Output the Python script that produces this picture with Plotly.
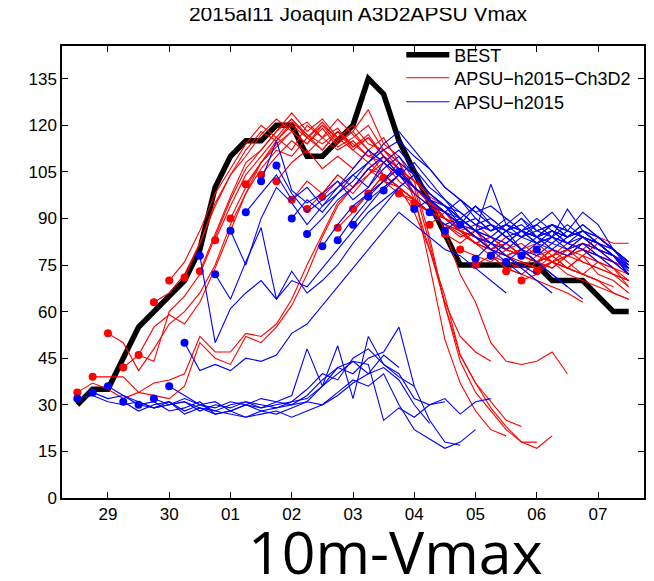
import plotly.graph_objects as go

# ---- time axis: days from 28 Sep 00Z; forecasts are 6-hourly ----
start_day = 0.5          # 28 Sep 12Z (first init / first BEST point)
step_day = 0.25          # 6 h
tick_days = [1, 2, 3, 4, 5, 6, 7, 8, 9]
tick_labels = ["29", "30", "01", "02", "03", "04", "05", "06", "07"]
y_ticks = [0, 15, 30, 45, 60, 75, 90, 105, 120, 135]

# ---- BEST track Vmax (kt) ----
best_vmax = [30, 35, 35, 45, 55, 60, 65, 70, 80, 100, 110, 115, 115, 120, 120, 110,
             110, 115, 120, 135, 130, 115, 105, 95, 85, 75, 75, 75, 75, 75, 75, 70,
             70, 70, 65, 60, 60]

# ---- APSU-h2015-Ch3D2 forecasts (red); run k starts at init index k ----
red_runs = [
    [34, 37, 35, 32, 34, 33, 32, 36, 50, 45, 43, 52, 50, 55, 62, 72, 84, 94, 100, 106, 104, 100],
    [39, 39, 39, 34, 37, 38, 40, 52, 47, 47, 53, 52, 56, 64, 75, 85, 95, 100, 104, 110, 106, 100],
    [53, 50, 41, 48, 56, 60, 66, 75, 88, 98, 106, 112, 110, 116, 112, 118, 114, 110, 112, 106, 102, 98],
    [42, 46, 55, 59, 56, 63, 74, 86, 98, 108, 113, 118, 114, 120, 116, 112, 116, 110, 106, 102, 97, 94],
    [46, 44, 60, 65, 72, 84, 96, 106, 112, 118, 122, 116, 120, 114, 118, 112, 108, 104, 100, 96, 90, 86],
    [63, 66, 72, 82, 95, 104, 112, 118, 115, 121, 117, 112, 118, 113, 116, 110, 104, 100, 95, 92, 88, 84],
    [70, 76, 86, 98, 106, 114, 120, 116, 122, 117, 114, 118, 112, 108, 104, 100, 92, 80, 63, 52, 47, 44],
    [71, 82, 94, 104, 110, 117, 122, 118, 121, 116, 119, 113, 117, 110, 106, 98, 75, 51, 37, 28, 22, 20],
    [73, 85, 97, 108, 112, 118, 124, 118, 122, 116, 120, 114, 112, 108, 100, 82, 62, 46, 37, 31, 25, 23],
    [83, 94, 104, 110, 116, 112, 120, 116, 122, 117, 112, 116, 108, 96, 80, 65, 46, 37, 29, 23, 18, 18],
    [90, 100, 108, 115, 120, 116, 121, 115, 118, 125, 114, 110, 102, 84, 62, 44, 34, 28, 22, 18, 16, 20],
    [101, 108, 114, 118, 114, 119, 113, 116, 120, 112, 108, 104, 96, 86, 72, 63, 50, 44, 43, 44, 47, 40],
    [104, 110, 115, 111, 116, 112, 115, 110, 108, 104, 100, 95, 92, 86, 82, 78, 74, 72, 70, 68, 66, 63],
    [102, 108, 112, 106, 110, 106, 112, 104, 100, 96, 92, 88, 84, 86, 82, 80, 78, 76, 80, 76, 72, 70],
    [96, 102, 98, 104, 100, 106, 102, 98, 95, 92, 88, 86, 82, 84, 80, 78, 76, 78, 74, 72, 70, 68],
    [93, 98, 104, 100, 106, 110, 104, 100, 96, 90, 86, 84, 80, 82, 78, 80, 76, 74, 78, 72, 70, 66],
    [97, 102, 98, 104, 108, 102, 98, 94, 90, 86, 88, 84, 80, 82, 78, 76, 80, 76, 74, 72, 70],
    [87, 92, 98, 102, 100, 96, 92, 90, 86, 84, 80, 82, 78, 80, 76, 74, 72, 76, 74, 68],
    [93, 98, 104, 100, 96, 92, 90, 86, 82, 80, 78, 76, 74, 76, 72, 70, 68, 66, 64],
    [98, 104, 100, 96, 92, 88, 85, 82, 80, 78, 80, 76, 78, 80, 82, 78, 76, 74],
    [103, 106, 100, 95, 90, 88, 84, 82, 78, 80, 76, 78, 74, 72, 70, 66, 64],
    [98, 96, 92, 88, 86, 82, 80, 84, 80, 82, 78, 80, 84, 80, 76, 72],
    [95, 92, 90, 86, 82, 84, 80, 78, 80, 76, 78, 80, 78, 74, 70],
    [88, 92, 86, 84, 80, 82, 78, 76, 78, 82, 80, 84, 82, 82],
    [85, 82, 86, 80, 78, 80, 76, 74, 78, 80, 76, 74, 72],
    [80, 78, 76, 80, 78, 76, 80, 78, 82, 80, 78, 74],
    [75, 78, 76, 74, 78, 80, 78, 82, 80, 78, 76],
    [78, 74, 72, 76, 74, 78, 76, 74, 72, 70],
    [73, 76, 74, 78, 80, 78, 82, 80, 76],
    [70, 72, 76, 74, 78, 76, 72, 68],
    [73, 76, 78, 80, 78, 76, 74],
]

# ---- APSU-h2015 forecasts (blue) ----
blue_runs = [
    [32, 33, 31, 30, 31, 29, 30, 31, 28, 30, 29, 31, 30, 29, 31, 32, 36, 40, 44, 40, 46, 42],
    [34, 32, 33, 31, 29, 30, 32, 30, 31, 28, 30, 32, 31, 33, 48, 36, 49, 32, 52, 43, 39, 36],
    [36, 33, 30, 31, 28, 29, 31, 27, 28, 30, 28, 29, 30, 31, 30, 33, 37, 40, 42, 38, 30, 24],
    [31, 28, 30, 31, 27, 29, 28, 27, 26, 28, 27, 29, 31, 36, 42, 44, 43, 25, 29, 26, 30, 31],
    [30, 29, 31, 28, 30, 29, 31, 30, 29, 31, 30, 33, 38, 42, 40, 45, 47, 55, 36, 25, 18, 17],
    [32, 30, 31, 29, 27, 28, 26, 27, 28, 26, 28, 30, 34, 38, 36, 40, 30, 22, 19, 16, 18, 22],
    [36, 33, 30, 28, 30, 31, 29, 30, 31, 35, 40, 38, 45, 48, 43, 40, 32, 30, 32, 27, 31, 32],
    [50, 41, 43, 41, 45, 44, 46, 53, 56, 62, 68, 74, 80, 86, 92, 88, 84, 80, 78, 74, 70, 66],
    [78, 50, 61, 66, 70, 64, 73, 66, 70, 75, 82, 88, 94, 100, 104, 98, 94, 88, 84, 80, 76, 72],
    [72, 64, 76, 87, 64, 70, 68, 74, 80, 86, 92, 96, 100, 104, 98, 94, 90, 86, 82, 78, 75, 72],
    [86, 75, 90, 100, 95, 88, 94, 100, 106, 112, 108, 104, 100, 96, 92, 88, 84, 80, 78, 74, 70, 66],
    [92, 98, 104, 96, 100, 94, 98, 102, 108, 112, 115, 110, 106, 100, 96, 92, 88, 84, 80, 76, 72, 68],
    [102, 115, 99, 95, 98, 102, 96, 100, 106, 110, 104, 98, 94, 90, 86, 88, 84, 80, 76, 72, 68, 64],
    [107, 98, 92, 96, 100, 104, 108, 114, 118, 112, 106, 100, 96, 92, 94, 90, 86, 88, 84, 82, 80, 76],
    [90, 96, 92, 98, 104, 100, 108, 112, 106, 100, 96, 92, 88, 86, 90, 86, 84, 86, 82, 80, 78, 74],
    [85, 90, 96, 100, 106, 110, 104, 100, 96, 94, 90, 86, 88, 84, 86, 82, 84, 80, 82, 78, 76, 72],
    [81, 88, 94, 98, 102, 108, 104, 98, 94, 92, 88, 90, 86, 88, 84, 86, 82, 84, 80, 78, 74],
    [83, 90, 96, 100, 104, 100, 96, 92, 90, 94, 88, 86, 90, 86, 88, 84, 86, 82, 80, 76],
    [88, 94, 100, 104, 98, 94, 92, 96, 90, 86, 88, 92, 86, 84, 88, 84, 82, 78, 75],
    [97, 102, 106, 100, 96, 92, 88, 94, 90, 86, 84, 88, 92, 86, 84, 82, 78, 72],
    [99, 104, 108, 102, 96, 90, 86, 82, 86, 90, 84, 80, 78, 82, 80, 76, 72],
    [105, 100, 96, 92, 88, 86, 101, 88, 86, 90, 86, 84, 88, 84, 80, 76],
    [93, 96, 92, 88, 90, 86, 88, 84, 86, 88, 84, 86, 82, 78, 74],
    [92, 88, 90, 86, 84, 88, 86, 82, 84, 93, 86, 84, 80, 76],
    [86, 90, 86, 84, 82, 86, 84, 88, 86, 92, 88, 80, 75],
    [88, 84, 82, 86, 80, 78, 82, 80, 84, 82, 78, 72],
    [77, 82, 80, 84, 82, 86, 84, 88, 84, 80, 74],
    [78, 82, 86, 84, 88, 86, 84, 80, 78, 72],
    [76, 80, 84, 82, 86, 84, 82, 78, 74],
    [78, 82, 80, 84, 86, 82, 78, 73],
    [80, 84, 82, 86, 84, 80, 76],
]

RED = "#ff0000"
BLUE = "#0000ff"
FONT = "Liberation Sans, Arial, Helvetica, sans-serif"


def runs_to_xy(runs):
    xs, ys, dx, dy = [], [], [], []
    for k, run in enumerate(runs):
        t = [start_day + step_day * (k + j) for j in range(len(run))]
        xs += t + [None]
        ys += list(run) + [None]
        dx.append(t[0])
        dy.append(run[0])
    return xs, ys, dx, dy


best_t = [start_day + step_day * i for i in range(len(best_vmax))]
rx, ry, rdx, rdy = runs_to_xy(red_runs)
bx, by, bdx, bdy = runs_to_xy(blue_runs)

fig = go.Figure()
fig.add_trace(go.Scatter(x=best_t, y=best_vmax, mode="lines", name="BEST",
                         legend="legend",
                         line=dict(color="black", width=5.5)))
fig.add_trace(go.Scatter(x=rx, y=ry, mode="lines", name="APSU\u2212h2015\u2212Ch3D2",
                         legend="legend2",
                         line=dict(color=RED, width=1.1), connectgaps=False))
fig.add_trace(go.Scatter(x=rdx, y=rdy, mode="markers", showlegend=False,
                         marker=dict(color=RED, size=8)))
fig.add_trace(go.Scatter(x=bx, y=by, mode="lines", name="APSU\u2212h2015",
                         legend="legend3",
                         line=dict(color=BLUE, width=1.1), connectgaps=False))
fig.add_trace(go.Scatter(x=bdx, y=bdy, mode="markers", showlegend=False,
                         marker=dict(color=BLUE, size=8)))

axis_common = dict(showgrid=False, zeroline=False, showline=True, linecolor="black",
                   linewidth=1.5, mirror="ticks", ticks="inside", ticklen=6,
                   tickwidth=1, tickcolor="black",
                   tickfont=dict(family=FONT, size=17, color="black"))

legend_common = dict(x=0.583, xanchor="left", yanchor="middle", bgcolor="rgba(0,0,0,0)",
                     borderwidth=0, itemwidth=43,
                     font=dict(family=FONT, size=18, color="black"))

fig.update_layout(
    width=646, height=573,
    margin=dict(l=54, r=8, t=38, b=83),
    paper_bgcolor="white", plot_bgcolor="white",
    title=dict(text="2015al11 Joaquin A3D2APSU Vmax", x=0.5418, xanchor="center",
               y=0.9895, yanchor="middle",
               font=dict(family=FONT, size=21, color="black")),
    xaxis=dict(range=[0.25, 9.75], tickvals=tick_days, ticktext=tick_labels, **axis_common),
    yaxis=dict(range=[0, 145.5], tickvals=y_ticks, **axis_common),
    legend=dict(y=0.980, **legend_common),
    legend2=dict(y=0.929, **legend_common),
    legend3=dict(y=0.876, **legend_common),
    annotations=[dict(text="10m-Vmax", xref="paper", yref="paper", x=0.5736, y=-0.117,
                      xanchor="center", yanchor="middle", showarrow=False,
                      font=dict(family="Open Sans, sans-serif", size=59, color="black"))],
)

fig.write_html("out.html")
